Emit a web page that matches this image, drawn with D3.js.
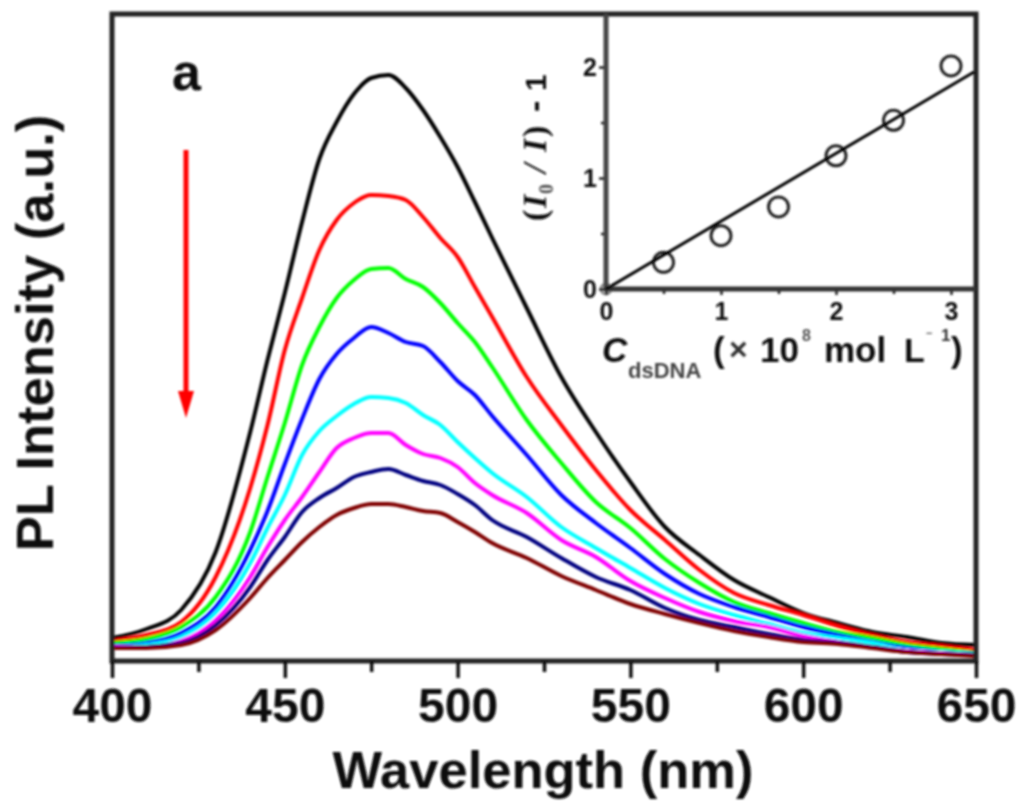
<!DOCTYPE html>
<html lang="en">
	<head>
		<meta charset="utf-8">
		<title>PL intensity</title>
		<script type="text/javascript" src="https://d3js.org/d3.v7.min.js"></script>
		<style type="text/css">
            body{
                margin:0;
                background:white;
            }
            text{
                font-family:"Liberation Sans",Arial,sans-serif;
                font-weight:bold;
                fill:#111;
            }
		</style>
	</head>
	<body>
        <div id="chart"></div>
		<script type="text/javascript">
            var wavelengths = [400,410,420,430,440,445,450,455,460,465,470,475,480,485,490,495,500,505,510,520,530,540,550,560,570,580,590,600,610,620,630,640,650]

            var black = [21,30,49,107,227,299,366,437,500,537,565,581,584,571,549,522,492,457,421,351,282,227,177,132,104,79,62,46,36,27,22,16,14]
            var red = [18,24,37,82,171,234,309,361,409,439,456,464,463,459,442,421,402,372,342,282,234,189,149,119,89,66,54,44,33,24,17,13,9]
            var green = [16,20,32,62,127,182,236,294,332,361,379,390,391,380,372,356,336,317,292,239,196,157,131,100,76,57,46,36,27,21,14,10,6]
            var blue = [13,16,26,52,109,148,195,240,280,305,321,332,326,317,313,297,278,264,243,204,164,136,111,85,65,52,42,32,24,17,11,7,5]
            var cyan = [12,14,22,46,96,131,164,204,228,243,255,262,261,256,244,234,217,201,186,162,132,111,91,71,55,44,35,26,21,16,9,7,5]
            var magenta = [12,12,18,39,82,112,139,162,187,211,221,226,226,214,205,201,192,176,164,146,119,102,78,61,47,38,32,23,17,12,8,6,4]
            var navy = [11,12,16,34,72,99,122,147,161,171,182,187,190,184,178,174,165,154,139,122,101,82,69,51,39,32,25,19,16,12,7,5,4]
            var maroon = [11,11,14,29,61,81,99,117,132,144,151,155,155,152,148,146,137,127,116,101,83,69,55,45,36,28,22,17,15,11,7,5,3]

            var seriesList = [black,red,green,blue,cyan,magenta,navy,maroon]
            var seriesColors = ["#000000","#ff0000","#00ff00","#0000ff","#00ffff","#ff00ff","#000080","#800000"]

            var xTicks = [400,450,500,550,600,650]
            var xMinorTicks = [425,475,525,575,625]

            var insetConc = [0,0.5,1,1.5,2,2.5,3]
            var insetRatio = [0,0.24,0.48,0.74,1.2,1.52,2.01]
            var fitConc = [0,3.2]
            var fitRatio = [0,1.955]

            var svg = d3.select("#chart").append("svg")
                .attr("width",1024)
                .attr("height",809)
                .style("display","block")

            // the source is a soft low res scan
            svg.append("filter").attr("id","soft")
                .attr("filterUnits","userSpaceOnUse")
                .attr("x",0).attr("y",0)
                .attr("width",1024).attr("height",809)
                .append("feGaussianBlur").attr("stdDeviation",0.9)

            var g = svg.append("g").attr("filter","url(#soft)")

            var x = d3.scaleLinear().domain([400,650]).range([112,976])
            var y = d3.scaleLinear().domain([-2,645]).range([661,14])

            var line = d3.line()
                .x(function(d,i){return x(wavelengths[i])})
                .y(function(d){return y(d)})
                .curve(d3.curveMonotoneX)

            g.selectAll(".spectrum").data(seriesList).enter().append("path")
                .attr("class","spectrum")
                .attr("d",line)
                .attr("fill","none")
                .attr("stroke-width",4)
                .attr("stroke",function(d,i){return seriesColors[i]})

            // main frame
            g.append("rect")
                .attr("x",112).attr("y",14)
                .attr("width",864).attr("height",647)
                .attr("fill","none")
                .attr("stroke","#222")
                .attr("stroke-width",5)

            var xAxis = g.append("g")
                .attr("transform","translate(0,661)")
                .call(d3.axisBottom(x).tickValues(xTicks).tickSize(17).tickPadding(10).tickFormat(d3.format("d")))
            xAxis.select(".domain").remove()
            xAxis.selectAll("line").attr("stroke","#111").attr("stroke-width",3.5)
            xAxis.selectAll("text").style("font-size","48px").attr("fill","#111")

            var xMinor = g.append("g")
                .attr("transform","translate(0,661)")
                .call(d3.axisBottom(x).tickValues(xMinorTicks).tickSize(11).tickFormat(""))
            xMinor.select(".domain").remove()
            xMinor.selectAll("line").attr("stroke","#111").attr("stroke-width",3.5)

            g.append("text")
                .attr("x",543).attr("y",788)
                .attr("text-anchor","middle")
                .style("font-size","52.5px")
                .text("Wavelength (nm)")

            g.append("text")
                .attr("transform","translate(53,333) rotate(-90)")
                .attr("text-anchor","middle")
                .style("font-size","52.5px")
                .text("PL Intensity (a.u.)")

            g.append("text")
                .attr("x",172).attr("y",90)
                .style("font-size","52px")
                .text("a")

            // red arrow
            g.append("line")
                .attr("x1",186).attr("y1",150)
                .attr("x2",186).attr("y2",395)
                .attr("stroke","#ff0000")
                .attr("stroke-width",5)
            g.append("path")
                .attr("d",d3.line()([[178,391],[194,391],[186,418]]))
                .attr("fill","#ff0000")

            // inset
            var ix = d3.scaleLinear().domain([0,3.2]).range([606,974])
            var iy = d3.scaleLinear().domain([0,2.478]).range([289,14])

            g.selectAll(".dot").data(insetConc).enter().append("circle")
                .attr("class","dot")
                .attr("cx",function(d){return ix(d)})
                .attr("cy",function(d,i){return iy(insetRatio[i])})
                .attr("r",function(d){return d==0 ? 5 : 10})
                .attr("fill","none")
                .attr("stroke",function(d){return d==0 ? "#888" : "#222"})
                .attr("stroke-width",3)

            g.append("line")
                .attr("x1",606).attr("y1",14).attr("x2",606).attr("y2",291)
                .attr("stroke","#444").attr("stroke-width",5)
            g.append("line")
                .attr("x1",604).attr("y1",289).attr("x2",976).attr("y2",289)
                .attr("stroke","#333").attr("stroke-width",5)

            g.append("path")
                .attr("d",d3.line().x(function(d){return ix(d)}).y(function(d,i){return iy(fitRatio[i])})(fitConc))
                .attr("fill","none")
                .attr("stroke","#000")
                .attr("stroke-width",3)

            var ixAxis = g.append("g")
                .attr("transform","translate(0,291)")
                .call(d3.axisBottom(ix).tickValues([0,1,2,3]).tickSize(4).tickPadding(7).tickFormat(d3.format("d")))
            ixAxis.select(".domain").remove()
            ixAxis.selectAll("line").attr("stroke","#222").attr("stroke-width",2.5)
            ixAxis.selectAll("text").style("font-size","25px").attr("fill","#222")

            var ixMinor = g.append("g")
                .attr("transform","translate(0,291)")
                .call(d3.axisBottom(ix).tickValues([0.5,1.5,2.5]).tickSize(3).tickFormat(""))
            ixMinor.select(".domain").remove()
            ixMinor.selectAll("line").attr("stroke","#222").attr("stroke-width",2.5)

            var iyAxis = g.append("g")
                .attr("transform","translate(604,0)")
                .call(d3.axisLeft(iy).tickValues([0,1,2]).tickSize(5).tickPadding(2).tickFormat(d3.format("d")))
            iyAxis.select(".domain").remove()
            iyAxis.selectAll("line").attr("stroke","#222").attr("stroke-width",2.5)
            iyAxis.selectAll("text").style("font-size","25px").attr("fill","#222")

            var iyMinor = g.append("g")
                .attr("transform","translate(604,0)")
                .call(d3.axisLeft(iy).tickValues([0.5,1.5]).tickSize(3).tickFormat(""))
            iyMinor.select(".domain").remove()
            iyMinor.selectAll("line").attr("stroke","#222").attr("stroke-width",2.5)

            // inset x title, pieces placed one by one
            function label(txt,px,py,size,style,color){
                return g.append("text")
                    .attr("x",px).attr("y",py)
                    .style("font-size",size+"px")
                    .style("font-style",style || "normal")
                    .style("fill",color || "#111")
                    .text(txt)
            }
            label("C",602,362,35,"italic")
            label("dsDNA",628,378,22,"normal","#444")
            label("(",713,362,35)
            label("\u00d7",729,360,32,"normal","#333")
            label("10",760,362,35)
            label("8",802,341,16,"normal","#555")
            label("mol",824,362,35)
            label("L",904,362,34)
            label("\u2212",926,337,11,"normal","#555")
            label("1",941,341,17,"normal","#333")
            label(")",951,362,35)

            // inset y title, same thing but rotated
            function rotated(txt,px,py,size,style,family,color){
                return g.append("text")
                    .attr("transform","translate("+px+","+py+") rotate(-90)")
                    .style("font-size",size+"px")
                    .style("font-style",style || "normal")
                    .style("font-family",family || "'Liberation Serif',serif")
                    .style("fill",color || "#111")
                    .text(txt)
            }
            rotated("(",546,221,34)
            rotated("I",546,208,34,"italic")
            rotated("0",553,194,20,"normal",null,"#555")
            rotated("/",546,173,34,"italic")
            rotated("I",546,152,34,"italic")
            rotated(")",546,137,34)
            rotated("-",546,112,34,"normal","'Liberation Sans',sans-serif")
            rotated("1",546,91,30,"normal","'Liberation Sans',sans-serif")
		</script>
	</body>
</html>
